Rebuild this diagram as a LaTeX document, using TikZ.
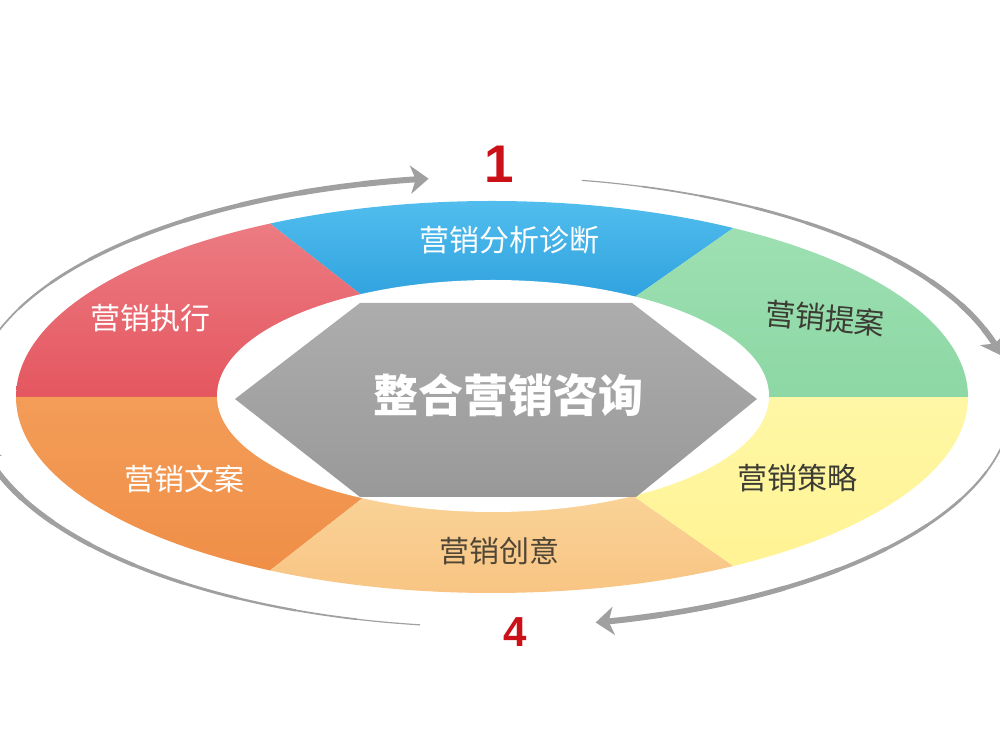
\documentclass[tikz,border=0pt]{standalone}
\usepackage{fontspec}
\setsansfont{Liberation Sans}
\newfontfamily\cjk{Noto Sans CJK SC}
\usetikzlibrary{arrows.meta}

\definecolor{blueT}{HTML}{52BEEE}
\definecolor{blueB}{HTML}{2C9FDD}
\definecolor{redT}{HTML}{EE8389}
\definecolor{redB}{HTML}{E4565F}
\definecolor{orangeT}{HTML}{F39D58}
\definecolor{orangeB}{HTML}{EF8C45}
\definecolor{peachT}{HTML}{FAD49A}
\definecolor{peachB}{HTML}{F8C482}
\definecolor{yellowT}{HTML}{FFF7A6}
\definecolor{yellowB}{HTML}{FFF290}
\definecolor{greenT}{HTML}{A2E1B5}
\definecolor{greenB}{HTML}{8CD8A4}
\definecolor{hexT}{HTML}{ADADAD}
\definecolor{hexB}{HTML}{999999}
\definecolor{flowgray}{HTML}{A0A0A0}
\definecolor{numred}{HTML}{CC1018}
\definecolor{darktext}{HTML}{3C3C34}

\begin{document}
\begin{tikzpicture}[x=1pt, y=1pt,
    part/.style={font=\cjk\fontsize{30}{30}\selectfont, inner sep=0pt},
    flow/.style={draw=flowgray, line cap=round}]
  \useasboundingbox (0,0) rectangle (1000,749);
  \clip (0,0) rectangle (1000,749);
  \coordinate (c) at (492,352);
  \coordinate (ci) at (493,353);
  \coordinate (a) at (492,347);

  % ring parts
  \foreach \sa/\sb/\ct/\cb/\ya/\yb in {35/142/blueT/blueB/440/550,
      142/180/redT/redB/350/560, 180/218/orangeT/orangeB/150/354,
      218/325/peachT/peachB/150/270, 325/360/yellowT/yellowB/150/354,
      0/35/greenT/greenB/350/560}{
    \pgfmathsetmacro\sm{(\sa+\sb)/2}
    \begin{scope}
      \clip (c) ellipse[x radius=476, y radius=196];
      \clip (c) -- ([shift={(c)}]\sa:900) -- ([shift={(c)}]\sm:900)
        -- ([shift={(c)}]\sb:900) -- cycle;
      \shade[top color=\ct, bottom color=\cb] (0,\ya) rectangle (1000,\yb);
    \end{scope}
  }
  \fill[white] (ci) ellipse[x radius=276, y radius=116];
  \shade[top color=hexT, bottom color=hexB]
    (235,350) -- (360,446) -- (632,446) -- (757,350) -- (636,252) -- (360,252) -- cycle;

  % labels
  \node[part, text=white] (diag) at (509,509) {营销分析诊断};
  \node[part, text=darktext, rotate=-5] (prop) at (825,431) {营销提案};
  \node[part, text=darktext] (strat) at (797,271) {营销策略};
  \node[part, text=darktext!85!brown] (idea) at (499,198) {营销创意};
  \node[part, text=white] (copy) at (184,270) {营销文案};
  \node[part, text=white] (exec) at (150,431) {营销执行};
  \node[font=\cjk\bfseries\fontsize{45}{45}\selectfont, text=white, inner sep=0pt]
    (core) at (508,354) {整合营销咨询};
  \node[font=\sffamily\bfseries\fontsize{53}{53}\selectfont, text=numred, inner sep=0pt]
    (one) at (499,585) {1};
  \node[font=\sffamily\bfseries\fontsize{42}{42}\selectfont, text=numred, inner sep=0pt]
    (four) at (515,117) {4};

  % flow arrows
  \foreach \ta/\tb in {170/97, 80/12, -3/-78.5, 262/191}{
    \foreach \i in {0,...,8}{
      \pgfmathsetmacro\tx{\ta+(\tb-\ta)*\i/10}
      \draw[flow, line width=1.2+0.55*\i] ([shift={(a)}]\tx:520 and 225)
        arc[start angle=\tx, delta angle={(\tb-\ta)/10}, x radius=520, y radius=225];
    }
    \pgfmathsetmacro\tx{\ta+(\tb-\ta)*0.9}
    \draw[flow, line width=6, -{Stealth[length=18pt, width=28pt, inset=5pt]}]
      ([shift={(a)}]\tx:520 and 225)
      arc[start angle=\tx, delta angle={(\tb-\ta)/10}, x radius=520, y radius=225];
  }
\end{tikzpicture}
\end{document}
